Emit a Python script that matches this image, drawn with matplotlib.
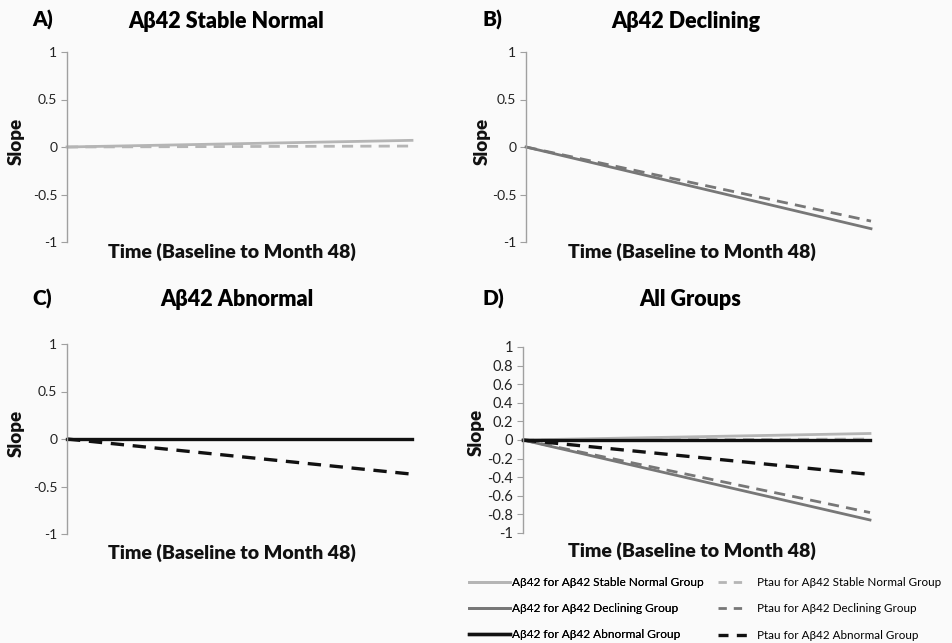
import matplotlib.pyplot as plt
from matplotlib.lines import Line2D

plt.rcParams['font.family'] = ['Lato', 'DejaVu Sans']

# time axis: baseline to month 48
time = [0, 48]

# slopes (start, end)
abeta_stable = [0, 0.07]
ptau_stable = [0, 0.01]
abeta_declining = [0, -0.86]
ptau_declining = [0, -0.78]
abeta_abnormal = [0, 0.0]
ptau_abnormal = [0, -0.37]

group_names = ['Stable Normal', 'Declining', 'Abnormal']
panel_titles = ['Aβ42 Stable Normal', 'Aβ42 Declining', 'Aβ42 Abnormal', 'All Groups']
panel_letters = ['A)', 'B)', 'C)', 'D)']

colors = {'Stable Normal': '#b5b5b5', 'Declining': '#777777', 'Abnormal': '#111111'}
widths = {'Stable Normal': 2.0, 'Declining': 2.0, 'Abnormal': 2.4}
series = {
    'Stable Normal': (abeta_stable, ptau_stable),
    'Declining': (abeta_declining, ptau_declining),
    'Abnormal': (abeta_abnormal, ptau_abnormal),
}

bg = '#fafafa'
W, H = 952, 643
fig = plt.figure(figsize=(W / 100, H / 100), dpi=100, facecolor=bg)


def px_axes(left, right, top, bottom):
    return fig.add_axes([left / W, 1 - bottom / H, (right - left) / W, (bottom - top) / H])


axA = px_axes(67, 412, 52, 242)
axB = px_axes(526, 871, 52, 242)
axC = px_axes(67, 412, 344, 534)
axD = px_axes(523, 870, 347, 533)
axes = [axA, axB, axC, axD]


def draw_group(ax, name):
    abeta, ptau = series[name]
    c = colors[name]
    lw = widths[name]
    ax.plot(time, ptau, color=c, lw=lw, dashes=(4, 2.6), clip_on=False)
    ax.plot(time, abeta, color=c, lw=lw, clip_on=False)


draw_group(axA, 'Stable Normal')
draw_group(axB, 'Declining')
draw_group(axC, 'Abnormal')
for name in group_names:
    draw_group(axD, name)

for i, ax in enumerate(axes):
    ax.set_facecolor(bg)
    ax.set_xlim(0, 48)
    ax.set_ylim(-1, 1)
    for s in ['top', 'right', 'bottom']:
        ax.spines[s].set_visible(False)
    ax.spines['left'].set_color('#a0a0a0')
    ax.spines['left'].set_linewidth(1.0)
    ax.set_xticks([])
    if i == 3:
        ticks = [round(-1 + 0.2 * k, 1) for k in range(11)]
        lsize = 10.5
    else:
        ticks = [-1, -0.5, 0, 0.5, 1]
        lsize = 10
    ax.set_yticks(ticks)
    ax.set_yticklabels([f'{t:g}' for t in ticks])
    ax.tick_params(axis='y', length=4, width=0.8, color='#a0a0a0', labelsize=lsize,
                   labelcolor='#222222', pad=3)
    ax.set_ylabel('Slope', fontsize=13.5, fontweight='heavy', color='#111111')
    ax.set_xlabel('Time (Baseline to Month 48)', fontsize=14, fontweight='heavy', color='#111111')

axA.yaxis.set_label_coords(-0.122, 0.53)
axB.yaxis.set_label_coords(-0.101, 0.53)
axC.yaxis.set_label_coords(-0.122, 0.53)
axD.yaxis.set_label_coords(-0.11, 0.54)
axA.xaxis.set_label_coords(0.478, -0.005)
axB.xaxis.set_label_coords(0.48, -0.005)
axC.xaxis.set_label_coords(0.478, -0.05)
axD.xaxis.set_label_coords(0.486, -0.046)

# panel letters and titles
letter_pos = [(32, 20), (483, 20), (32, 299), (483, 299)]
title_x = [226, 686, 237, 690]
for (lx, ly), tx, letter, title in zip(letter_pos, title_x, panel_letters, panel_titles):
    fig.text(lx / W, 1 - ly / H, letter, fontsize=15, fontweight='heavy', va='center', ha='left')
    fig.text(tx / W, 1 - (ly + 1) / H, title, fontsize=15.5, fontweight='heavy', va='center', ha='center')

# legend in two columns
left_handles = [Line2D([0], [0], color=colors[n], lw=widths[n]) for n in group_names]
left_labels = [f'Aβ42 for Aβ42 {n} Group' for n in group_names]
right_handles = [Line2D([0], [0], color=colors[n], lw=widths[n], dashes=(3, 2.5)) for n in group_names]
right_labels = [f'Ptau for Aβ42 {n} Group' for n in group_names]

leg1 = fig.legend(left_handles, left_labels, loc='upper left', bbox_to_anchor=(463 / W, 1 - 571 / H),
                  frameon=False, fontsize=8.6, handlelength=3.4, handletextpad=0.2, labelspacing=1.27,
                  borderpad=0)
leg2 = fig.legend(right_handles, right_labels, loc='upper left', bbox_to_anchor=(712 / W, 1 - 571 / H),
                  frameon=False, fontsize=8.4, handlelength=2.6, handletextpad=0.75, labelspacing=1.32,
                  borderpad=0)
fig.add_artist(leg1)

fig.savefig('out.png', dpi=100, facecolor=bg)
